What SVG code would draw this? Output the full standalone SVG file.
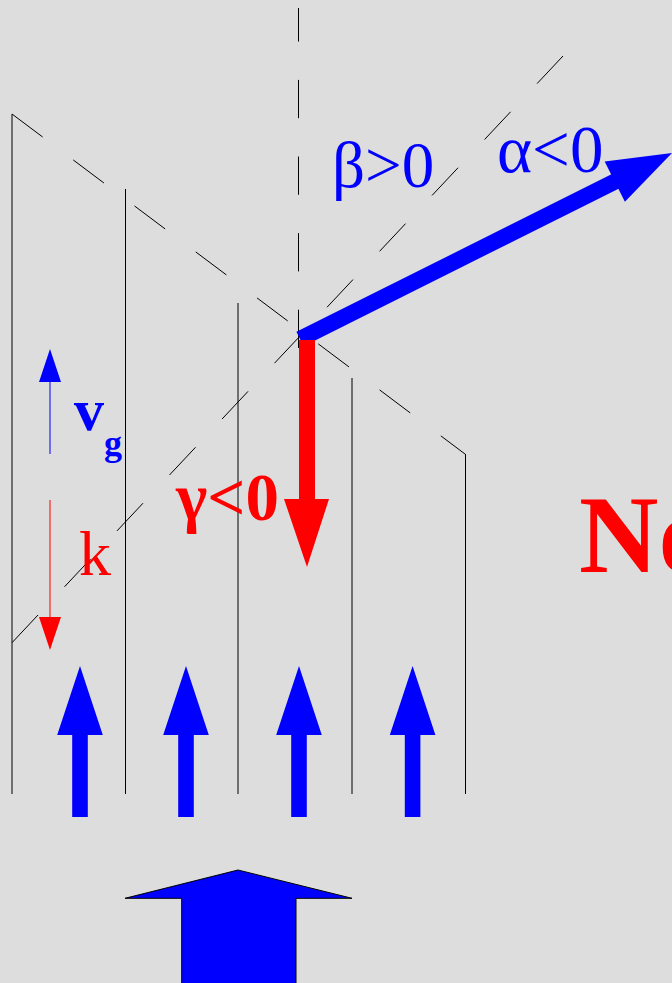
<svg xmlns="http://www.w3.org/2000/svg" width="672" height="983" viewBox="0 0 672 983">
<style>
.ln{stroke:#000;stroke-width:1;fill:none}
.d1{stroke:#000;stroke-width:1;fill:none;stroke-dasharray:38.3 38.3}
.d2{stroke:#000;stroke-width:1;fill:none;stroke-dasharray:38 38.7}
.blue{fill:#0000ff}
.red{fill:#ff0000}
.t{font-family:"Liberation Serif","Times New Roman",serif}
</style>
<rect x="0" y="0" width="672" height="983" fill="#dddddd"/>
<g id="guides">
<line class="ln" x1="12" y1="114" x2="12" y2="794"/>
<line class="ln" x1="125.5" y1="189" x2="125.5" y2="794"/>
<line class="ln" x1="238" y1="303" x2="238" y2="794"/>
<line class="ln" x1="352" y1="378" x2="352" y2="794"/>
<line class="ln" x1="465.5" y1="454" x2="465.5" y2="794"/>
<line class="d1" x1="12" y1="114" x2="465" y2="454"/>
<line class="d2" x1="12" y1="642.7" x2="563" y2="56"/>
<line class="d1" x1="298.5" y1="348" x2="298.5" y2="8"/>
</g>
<g id="connectors">
<g id="alpha-arrow" class="blue">
<line x1="300" y1="339" x2="616" y2="181" stroke="#0000ff" stroke-width="16"/>
<polygon points="672,153 604.7,161.5 624.9,201.7"/>
</g>
<g id="gamma-arrow" class="red">
<rect x="299" y="340" width="16" height="161"/>
<polygon points="284,499 329,499 307,567"/>
</g>
<g id="vg-arrow">
<line x1="50" y1="454" x2="50" y2="380" stroke="#0000ff" stroke-width="1"/>
<polygon class="blue" points="50,349 39,382 61,382"/>
</g>
<g id="k-arrow">
<line x1="50" y1="500" x2="50" y2="619" stroke="#ff0000" stroke-width="1"/>
<polygon class="red" points="50,650 39,617 61,617"/>
</g>
<g id="up-arrows" class="blue">
<path d="M80,666 L102.8,735 L87.8,735 L87.8,817 L72.2,817 L72.2,735 L57.2,735 Z"/>
<path d="M186,666 L208.8,735 L193.8,735 L193.8,817 L178.2,817 L178.2,735 L163.2,735 Z"/>
<path d="M299,666 L321.8,735 L306.8,735 L306.8,817 L291.2,817 L291.2,735 L276.2,735 Z"/>
<path d="M412.6,666 L435.4,735 L420.4,735 L420.4,817 L404.8,817 L404.8,735 L389.8,735 Z"/>
</g>
<g id="big-arrow">
<path d="M238,870 L352,898.3 L296,898.3 L296,990 L181.7,990 L181.7,898.3 L125,898.3 Z" fill="#0000ff" stroke="#000" stroke-width="1"/>
</g>
</g>
<g id="label-beta"><text class="t" x="332" y="187" font-size="65" fill="#0000ff">β&gt;0</text></g>
<g id="label-alpha"><text class="t" x="497" y="172" font-size="67" fill="#0000ff">α&lt;0</text></g>
<g id="label-gamma"><text class="t" x="176" y="520" font-size="67" font-weight="bold" fill="#ff0000">γ&lt;0</text></g>
<g id="label-vg"><text class="t" x="74" y="430" font-size="60" font-weight="bold" fill="#0000ff">v</text><text class="t" x="104" y="455" font-size="36" font-weight="bold" fill="#0000ff">g</text></g>
<g id="label-k"><text class="t" x="79" y="575" font-size="64" fill="#ff0000">k</text></g>
<g id="label-no"><text class="t" x="579" y="572" font-size="110" font-weight="bold" fill="#ff0000">No</text></g>
</svg>
